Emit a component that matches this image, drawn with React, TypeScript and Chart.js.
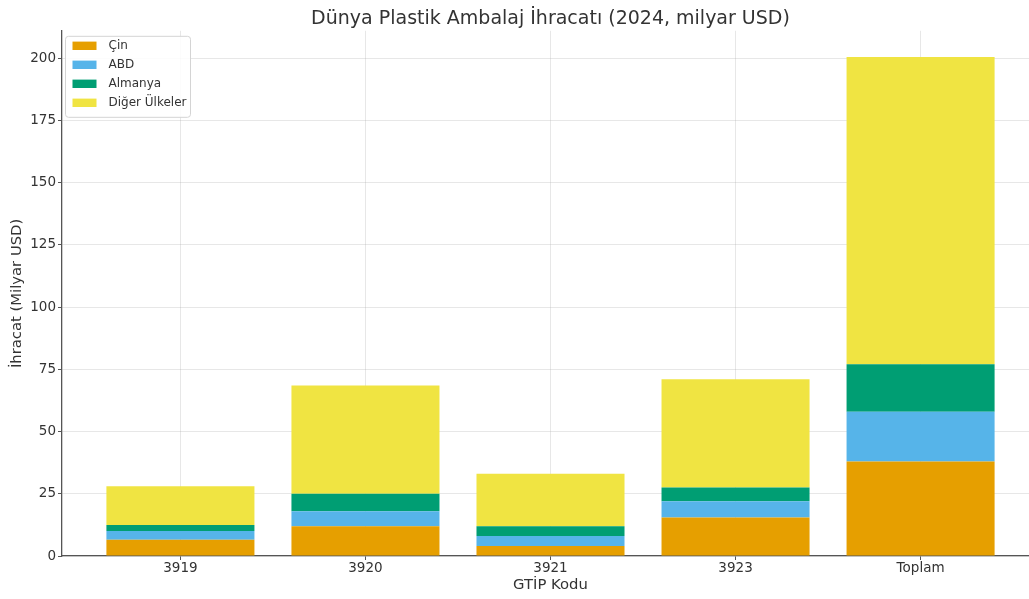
import { useEffect, useRef } from "react";
import { Chart, registerables } from "chart.js";

Chart.register(...registerables);

// GTİP codes on the x axis
const categories = ["3919", "3920", "3921", "3923", "Toplam"];

// Export values per country group, billion USD
const cin = [6.5, 12, 4, 15.5, 38];
const abd = [3.5, 6, 4, 6.5, 20];
const almanya = [2.5, 7, 4, 5.5, 19];
const diger = [15.5, 43.5, 21, 43.5, 123.5];

const yTicks = [0, 25, 50, 75, 100, 125, 150, 175, 200];

const FONT = "'DejaVu Sans', 'Noto Sans', sans-serif";
const TEXT = "#333333";

const series = [
  { label: "Çin", values: cin, color: "#E69F00" },
  { label: "ABD", values: abd, color: "#56B4E9" },
  { label: "Almanya", values: almanya, color: "#009E73" },
  { label: "Diğer Ülkeler", values: diger, color: "#F0E442" },
];

// Framed legend in the upper-left corner of the plot area
const insideLegend = {
  id: "insideLegend",
  afterDraw(chart: any) {
    const ctx = chart.ctx as CanvasRenderingContext2D;
    const area = chart.chartArea;
    const x0 = area.left + 3.5;
    const y0 = area.top + 5.5;
    const w = 125;
    const h = 81;
    ctx.save();
    ctx.beginPath();
    ctx.roundRect(x0, y0, w, h, 3);
    ctx.fillStyle = "rgba(255,255,255,0.85)";
    ctx.fill();
    ctx.strokeStyle = "#d4d4d4";
    ctx.lineWidth = 1;
    ctx.stroke();
    ctx.font = `12px ${FONT}`;
    ctx.textBaseline = "middle";
    ctx.textAlign = "left";
    chart.data.datasets.forEach((ds: any, i: number) => {
      const cy = y0 + 9.5 + i * 19;
      ctx.fillStyle = ds.backgroundColor;
      ctx.fillRect(x0 + 7, cy - 4.2, 24, 8.4);
      ctx.fillStyle = TEXT;
      ctx.fillText(ds.label, x0 + 43, cy);
    });
    ctx.restore();
  },
};

export default function App() {
  const canvasRef = useRef<HTMLCanvasElement | null>(null);

  useEffect(() => {
    if (!canvasRef.current) return;
    const chart = new Chart(canvasRef.current, {
      type: "bar",
      data: {
        datasets: series.map((s) => ({
          label: s.label,
          data: s.values.map((v, i) => ({ x: i, y: v })),
          backgroundColor: s.color,
          borderWidth: 0,
          categoryPercentage: 1,
          barPercentage: 0.8,
        })),
      },
      options: {
        animation: false,
        responsive: false,
        devicePixelRatio: 1,
        layout: { padding: { left: 0, right: 0, top: 0, bottom: 0 } },
        plugins: {
          legend: { display: false },
          tooltip: { enabled: false },
          title: {
            display: true,
            fullSize: false,
            text: "Dünya Plastik Ambalaj İhracatı (2024, milyar USD)",
            color: TEXT,
            font: { family: FONT, size: 19, weight: "normal" },
            padding: { top: 8, bottom: 0 },
          },
        },
        scales: {
          x: {
            type: "linear",
            stacked: true,
            offset: false,
            min: -0.64,
            max: 4.64,
            z: 1,
            afterBuildTicks: (scale: any) => {
              scale.ticks = categories.map((_, i) => ({ value: i }));
            },
            afterFit: (scale: any) => {
              scale.height = 43;
            },
            ticks: {
              callback: (v: any) => categories[v as number] ?? "",
              color: TEXT,
              font: { family: FONT, size: 13.5 },
              padding: 0,
              maxRotation: 0,
            },
            grid: {
              offset: false,
              color: "rgba(170,170,170,0.28)",
              tickColor: "#555555",
              tickLength: 4,
              lineWidth: 1,
            },
            border: { display: true, color: "#555555", width: 1.3 },
            title: {
              display: true,
              text: "GTİP Kodu",
              color: TEXT,
              font: { family: FONT, size: 14.8 },
              padding: { top: 0, bottom: 5 },
            },
          },
          y: {
            stacked: true,
            min: 0,
            max: 211,
            z: 1,
            afterBuildTicks: (scale: any) => {
              scale.ticks = yTicks.map((v) => ({ value: v }));
            },
            afterFit: (scale: any) => {
              scale.width = 62;
            },
            ticks: {
              color: TEXT,
              font: { family: FONT, size: 13.5 },
              padding: 2,
            },
            grid: {
              color: "rgba(170,170,170,0.28)",
              tickColor: "#555555",
              tickLength: 4,
              lineWidth: 1,
            },
            border: { display: true, color: "#555555", width: 1.3 },
            title: {
              display: true,
              text: "İhracat (Milyar USD)",
              color: TEXT,
              font: { family: FONT, size: 14.8 },
              padding: { top: 8, bottom: 0 },
            },
          },
        },
      },
      plugins: [insideLegend],
    } as any);
    return () => chart.destroy();
  }, []);

  return (
    <div
      style={{
        position: "absolute",
        left: 0,
        top: 0,
        width: 1029,
        height: 599,
        overflow: "hidden",
        background: "#ffffff",
      }}
    >
      <canvas ref={canvasRef} width={1039} height={599} style={{ display: "block" }} />
    </div>
  );
}
